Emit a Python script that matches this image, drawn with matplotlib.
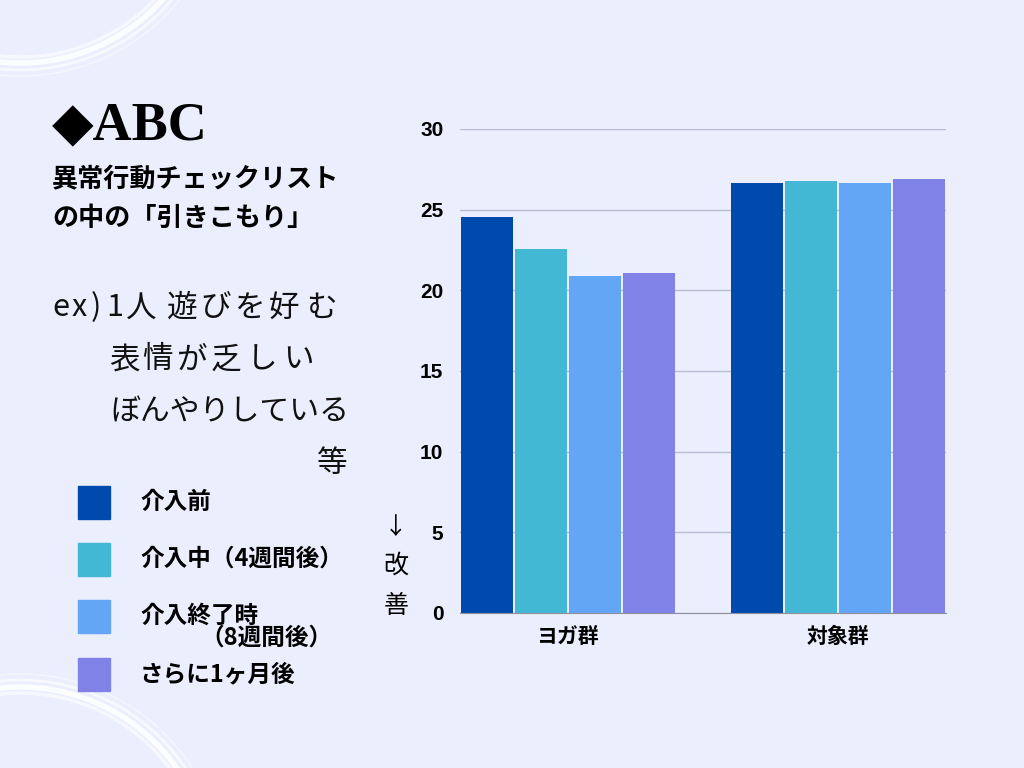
import numpy as np
import matplotlib
matplotlib.use("Agg")
import matplotlib.pyplot as plt
from matplotlib.patches import Arc, Rectangle

plt.rcParams['font.family'] = ['Noto Sans CJK JP', 'DejaVu Sans']

# data
groups = ["ヨガ群", "対象群"]
series = ["介入前", "介入中（4週間後）", "介入終了時", "さらに1ヶ月後"]
values = [
    [24.55, 26.65],   # 介入前
    [22.55, 26.8],    # 介入中（4週間後）
    [20.9, 26.65],    # 介入終了時（8週間後）
    [21.1, 26.9],     # さらに1ヶ月後
]
yticks = [0, 5, 10, 15, 20, 25, 30]
colors = ["#004AAD", "#43B8D5", "#64A6F6", "#8082E8"]
bg = "#EAEEFD"

# hand-written example lines: (text, x centre of each char, y)
examples = [
    ("ex)1人遊びを好む", [61, 79, 96, 115, 141, 182, 216, 249, 284, 321], 308),
    ("表情が乏しい", [124, 157, 191, 226, 262, 298], 360),
    ("等", [332], 463),
]

fig = plt.figure(figsize=(10.24, 7.68), dpi=100, facecolor=bg)

# background layer in pixel coordinates (decorations + side texts)
deco = fig.add_axes([0, 0, 1, 1], zorder=0)
deco.set_xlim(0, 1024)
deco.set_ylim(768, 0)
deco.axis("off")
deco.set_facecolor(bg)

# white brush arcs
for r, lw, a in [(186, 2.5, 0.6), (192, 4, 0.9), (199, 2, 0.7), (205, 1.2, 0.5)]:
    deco.add_patch(Arc((20, -129), 2 * r, 2 * r, color="white", lw=lw, alpha=a))
    deco.add_patch(Arc((20, 879), 2 * r, 2 * r, color="white", lw=lw, alpha=a))

# title
deco.text(52, 126, "◆ABC", fontsize=39, fontweight="bold",
          family=["Liberation Serif", "DejaVu Serif"], va="center", ha="left")
deco.text(52, 180, "異常行動チェックリスト", fontsize=18.8, fontweight="bold",
          va="center", ha="left")
deco.text(52, 218, "の中の「引きこもり」", fontsize=18.8, fontweight="bold",
          va="center", ha="left")

# examples, one char at a time to get the loose hand-written spacing
for line, xs, yy in examples:
    for ch, xc in zip(line, xs):
        deco.text(xc, yy, ch, fontsize=22, fontweight="normal",
                  va="center", ha="center", color="#111111")
deco.text(110, 412, "ぼんやりしている", fontsize=21.5, fontweight="normal",
          va="center", ha="left", color="#111111")

# legend
leg_y = [502, 559, 616, 674]
for c, yy in zip(colors, leg_y):
    deco.add_patch(Rectangle((78, yy - 16), 32, 33, color=c))
deco.text(140, 502, series[0], fontsize=17, fontweight="bold", va="center")
deco.text(140, 559, series[1], fontsize=17, fontweight="bold", va="center")
deco.text(140, 616, series[2], fontsize=17, fontweight="bold", va="center")
deco.text(200, 638, "（8週間後）", fontsize=17, fontweight="bold", va="center")
deco.text(140, 674, series[3], fontsize=17, fontweight="bold", va="center")

# axis note
deco.text(396, 527, "↓", fontsize=17, va="center", ha="center")
deco.text(396, 566, "改", fontsize=18, va="center", ha="center")
deco.text(396, 606, "善", fontsize=18, va="center", ha="center")

# bar chart
ax = fig.add_axes([460 / 1024, 1 - 613 / 768, 486 / 1024, 484 / 768], zorder=1)
ax.set_facecolor("none")
x = np.arange(len(groups))
offsets = [-0.3, -0.1, 0.1, 0.3]
for vals, off, c in zip(values, offsets, colors):
    ax.bar(x + off, vals, width=0.19, color=c, zorder=3)

ax.set_xlim(-0.4, 1.4)
ax.set_ylim(0, 30)
ax.set_yticks(yticks)
ax.set_xticks(x)
ax.set_xticklabels(groups, fontsize=15, fontweight="bold")
ax.set_yticklabels([str(t) for t in yticks], fontsize=15, fontweight="bold",
                   family=["Liberation Sans", "DejaVu Sans"])
ax.tick_params(axis="both", length=0)
ax.tick_params(axis="y", pad=12)
ax.tick_params(axis="x", pad=9)
ax.grid(axis="y", color="#B9BDD2", lw=1, zorder=0)
for s in ["top", "right", "left"]:
    ax.spines[s].set_visible(False)
ax.spines["bottom"].set_color("#8E90A0")
ax.spines["bottom"].set_zorder(4)

fig.savefig("out.png", dpi=100, facecolor=bg)
